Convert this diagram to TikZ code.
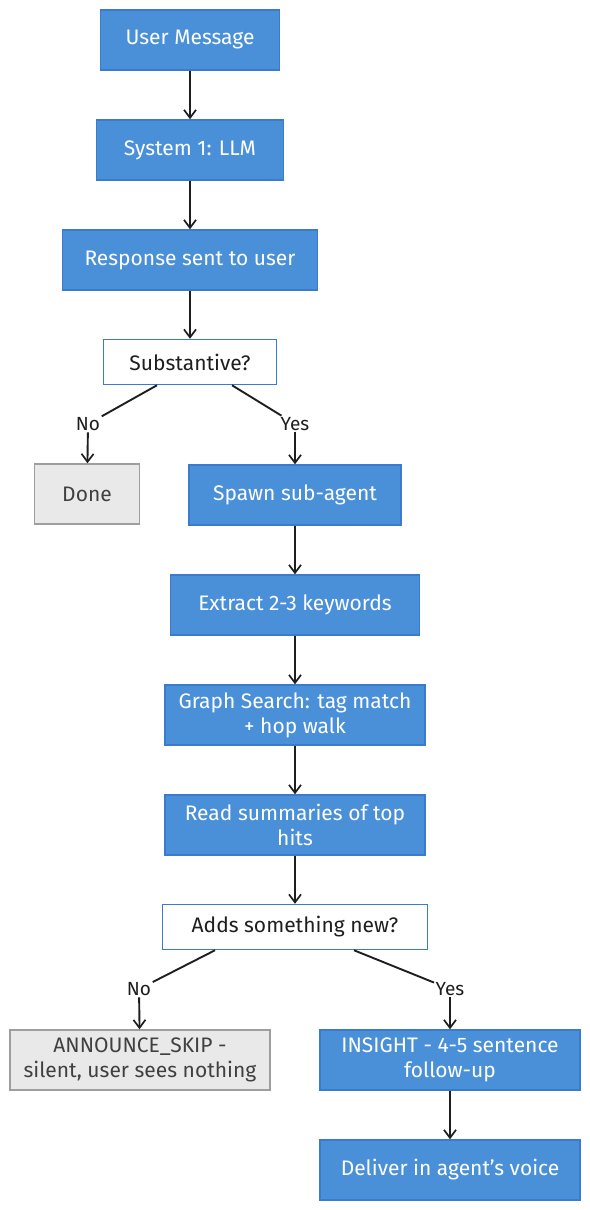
\documentclass[tikz,border=0pt]{standalone}
\usepackage{fontspec}
\setmainfont{Fira Sans}
\usetikzlibrary{arrows.meta}

\definecolor{boxblue}{HTML}{4A90D9}
\definecolor{rimblue}{HTML}{3A7BD0}
\definecolor{donegray}{HTML}{E9E9E9}
\definecolor{rimgray}{HTML}{9E9E9E}
\definecolor{ink}{HTML}{1E1E1E}

\tikzset{
  proc/.style={draw=rimblue, fill=boxblue, text=white, line width=1.5pt,
    minimum height=60pt, align=center, inner sep=0pt,
    font=\fontsize{21}{25}\selectfont},
  ask/.style={proc, fill=white, text=ink, minimum height=45pt},
  halt/.style={proc, draw=rimgray, fill=donegray, text=ink!85},
  flow/.style={draw=ink, line width=1.9pt,
    -{Straight Barb[length=8pt,width=12pt,line width=1.7pt]}},
  link/.style={draw=ink, line width=1.9pt},
  tag/.style={fill=white, inner sep=1.5pt, text=ink,
    font=\fontsize{19}{22}\selectfont}
}

\begin{document}
\begin{tikzpicture}[x=1pt,y=-1pt]
    \useasboundingbox (0,0) rectangle (589,1210);
    % main column
    \node[proc, minimum width=179pt] (user) at (190,40) {User Message};
    \node[proc, minimum width=187pt] (sys) at (190,150) {System 1: LLM};
    \node[proc, minimum width=255pt] (resp) at (190,260) {Response sent to user};
    \node[ask, minimum width=173pt] (subst) at (190,362) {Substantive?};
    \node[halt, minimum width=105pt] (done) at (87,494) {Done};
    \node[proc, minimum width=212pt] (spawn) at (295,495) {Spawn sub-agent};
    \node[proc, minimum width=249pt] (extract) at (295,605) {Extract 2-3 keywords};
    \node[proc, minimum width=260pt] (graph) at (295,715) {Graph Search: tag match\\+ hop walk};
    \node[proc, minimum width=260pt] (read) at (295,825) {Read summaries of top\\hits};
    \node[ask, minimum width=265pt] (adds) at (295,927) {Adds something new?};
    \node[halt, minimum width=260pt] (skip) at (140,1060) {ANNOUNCE\_SKIP -\\silent, user sees nothing};
    \node[proc, minimum width=260pt] (insight) at (450,1060) {INSIGHT - 4-5 sentence\\follow-up};
    \node[proc, minimum width=260pt] (deliver) at (450,1170) {Deliver in agent's voice};
    % branch labels
    \node[tag] (no1) at (88,424) {No};
    \node[tag] (yes1) at (295,424) {Yes};
    \node[tag] (no2) at (139,989) {No};
    \node[tag] (yes2) at (450,989) {Yes};

    \draw[flow] (user) -- (sys);
    \draw[flow] (sys) -- (resp);
    \draw[flow] (resp) -- (subst);
    \draw[link] ([xshift=-33pt]subst.south) -- (no1);
    \draw[flow] (no1) -- (done);
    \draw[link] ([xshift=42pt]subst.south) -- (yes1);
    \draw[flow] (yes1) -- (spawn);
    \draw[flow] (spawn) -- (extract);
    \draw[flow] (extract) -- (graph);
    \draw[flow] (graph) -- (read);
    \draw[flow] (read) -- (adds);
    \draw[link] ([xshift=-80pt]adds.south) -- (no2);
    \draw[flow] (no2) -- (skip);
    \draw[link] ([xshift=59pt]adds.south) -- (yes2);
    \draw[flow] (yes2.south) -- (yes2.south |- insight.north);
    \draw[flow] (insight) -- (deliver);
\end{tikzpicture}
\end{document}
